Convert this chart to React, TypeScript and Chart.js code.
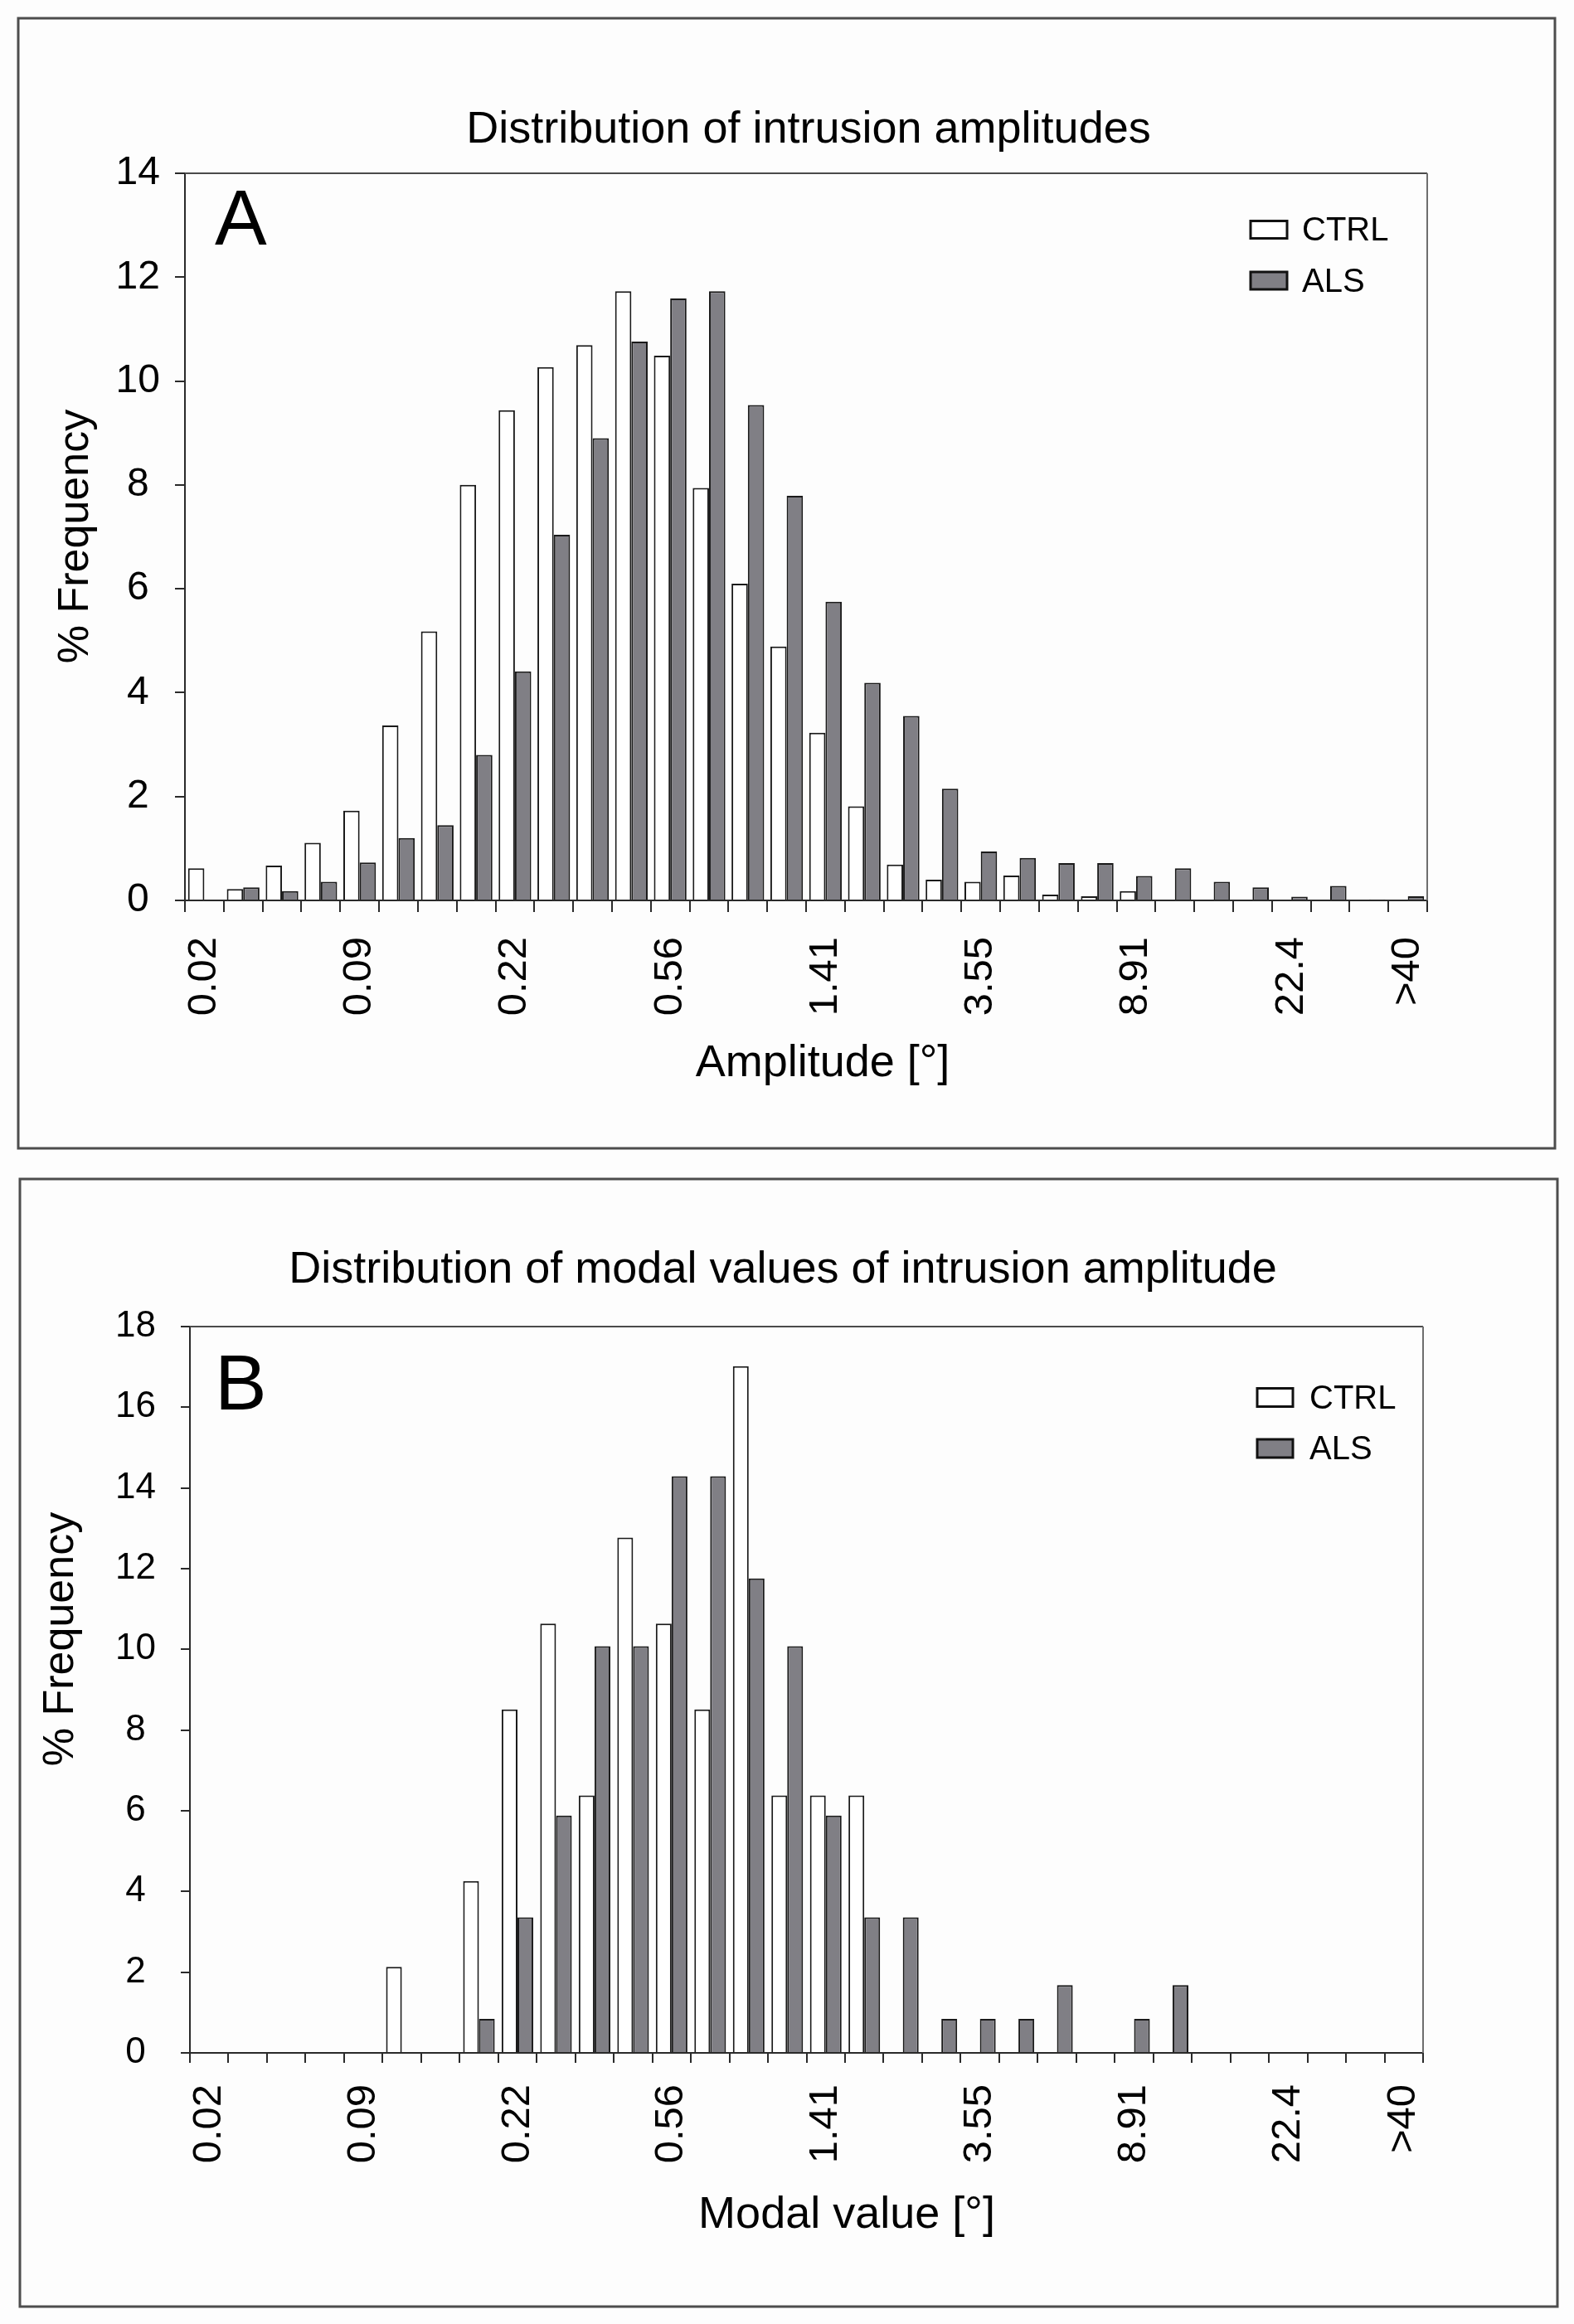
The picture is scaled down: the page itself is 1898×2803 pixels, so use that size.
import React, { useEffect, useRef } from "react";
import { Chart, registerables } from "chart.js";

Chart.register(...registerables);

const FONT = "'Liberation Sans', Arial, Helvetica, sans-serif";

// ---- data ----
const categories = [
  "0.02", "", "", "", "0.09", "", "", "", "0.22", "", "", "", "0.56", "", "", "",
  "1.41", "", "", "", "3.55", "", "", "", "8.91", "", "", "", "22.4", "", "", ">40",
];
const seriesNames = ["CTRL", "ALS"];

// Panel A: distribution of intrusion amplitudes (% frequency)
const amplitudeCtrl = [
  0.62, 0.22, 0.67, 1.11, 1.73, 3.37, 5.18, 8.0, 9.44, 10.27, 10.69, 11.73, 10.49, 7.94, 6.1, 4.89,
  3.23, 1.81, 0.69, 0.4, 0.36, 0.48, 0.11, 0.08, 0.18, 0, 0, 0, 0, 0, 0, 0,
];
const amplitudeAls = [
  0, 0.25, 0.18, 0.36, 0.73, 1.2, 1.45, 2.8, 4.41, 7.04, 8.9, 10.76, 11.59, 11.73, 9.54, 7.79,
  5.75, 4.19, 3.55, 2.15, 0.94, 0.82, 0.72, 0.72, 0.47, 0.62, 0.36, 0.25, 0.07, 0.28, 0.02, 0.08,
];

// Panel B: distribution of modal values of intrusion amplitude (% frequency)
const modalCtrl = [
  0, 0, 0, 0, 0, 2.13, 0, 4.26, 8.51, 10.64, 6.38, 12.77, 10.64, 8.51, 17.02, 6.38,
  6.38, 6.38, 0, 0, 0, 0, 0, 0, 0, 0, 0, 0, 0, 0, 0, 0,
];
const modalAls = [
  0, 0, 0, 0, 0, 0, 0, 0.84, 3.36, 5.88, 10.08, 10.08, 14.29, 14.29, 11.76, 10.08,
  5.88, 3.36, 3.36, 0.84, 0.84, 0.84, 1.68, 0, 0.84, 1.68, 0, 0, 0, 0, 0, 0,
];

const yMaxA = 14;
const yMaxB = 18;
const yStep = 2;

// ---- styles ----
const CANVAS_W = 1898;
const CTRL_FILL = "#ffffff";
const ALS_FILL = "#807f85";
const BAR_EDGE = "#1a1a1a";
const AXIS = "#2a2a2a";
const BG = "#fdfdfd";

type Panel = {
  top: number;
  height: number;
  area: { left: number; top: number; right: number; bottom: number };
  yMax: number;
  xTickLen: number;
  xTickPad: number;
  xTickFont: number;
  yTickLen: number;
  yTickPad: number;
  yTickFont: number;
  catPct: number;
  box: { x1: number; y1: number; x2: number; y2: number };
  title: string;
  titleX: number;
  titleY: number;
  xTitle: string;
  xTitleX: number;
  xTitleY: number;
  yTitle: string;
  yTitleX: number;
  yTitleY: number;
  letter: string;
  letterX: number;
  letterY: number;
  legendBoxX: number;
  legendBoxW: number;
  legendBoxH: number;
  legendRows: number[];
  legendTextX: number;
};

const panelA: Panel = {
  top: 0,
  height: 1400,
  area: { left: 223, top: 209, right: 1721, bottom: 1086 },
  yMax: yMaxA,
  xTickLen: 14,
  xTickPad: 30,
  xTickFont: 49,
  yTickLen: 12,
  yTickPad: 18,
  yTickFont: 48,
  catPct: 0.84,
  box: { x1: 22, y1: 22, x2: 1875, y2: 1385 },
  title: "Distribution of intrusion amplitudes",
  titleX: 975,
  titleY: 172,
  xTitle: "Amplitude [°]",
  xTitleX: 992,
  xTitleY: 1298,
  yTitle: "% Frequency",
  yTitleX: 106,
  yTitleY: 647,
  letter: "A",
  letterX: 259,
  letterY: 295,
  legendBoxX: 1508,
  legendBoxW: 44,
  legendBoxH: 21,
  legendRows: [277, 338.5],
  legendTextX: 1570,
};

const panelB: Panel = {
  top: 1400,
  height: 1403,
  area: { left: 229, top: 200, right: 1716, bottom: 1076 },
  yMax: yMaxB,
  xTickLen: 12,
  xTickPad: 26,
  xTickFont: 49,
  yTickLen: 11,
  yTickPad: 30,
  yTickFont: 44,
  catPct: 0.82,
  box: { x1: 24, y1: 22, x2: 1878, y2: 1382 },
  title: "Distribution of modal values of intrusion amplitude",
  titleX: 944,
  titleY: 147,
  xTitle: "Modal value [°]",
  xTitleX: 1021,
  xTitleY: 1287,
  yTitle: "% Frequency",
  yTitleX: 88,
  yTitleY: 577,
  letter: "B",
  letterX: 259,
  letterY: 300,
  legendBoxX: 1516,
  legendBoxW: 43,
  legendBoxH: 22,
  legendRows: [285.5, 347],
  legendTextX: 1579,
};

function decorPlugin(p: Panel) {
  return {
    id: "decor",
    beforeDraw(chart: any) {
      const ctx = chart.ctx;
      ctx.save();
      ctx.fillStyle = BG;
      ctx.fillRect(0, 0, chart.width, chart.height);
      ctx.restore();
    },
    afterDraw(chart: any) {
      const ctx = chart.ctx;
      const a = chart.chartArea;
      ctx.save();

      // plot frame top & right
      ctx.lineWidth = 2;
      ctx.strokeStyle = "#4a4a4a";
      ctx.beginPath();
      ctx.moveTo(a.left, a.top);
      ctx.lineTo(a.right, a.top);
      ctx.stroke();
      ctx.strokeStyle = "#6e6e6e";
      ctx.beginPath();
      ctx.moveTo(a.right, a.top);
      ctx.lineTo(a.right, a.bottom);
      ctx.stroke();

      // outer panel box
      ctx.lineWidth = 3;
      ctx.strokeStyle = "#4d4d4d";
      ctx.strokeRect(p.box.x1, p.box.y1, p.box.x2 - p.box.x1, p.box.y2 - p.box.y1);

      ctx.fillStyle = "#000";
      ctx.textBaseline = "alphabetic";

      // title
      ctx.font = `54px ${FONT}`;
      ctx.textAlign = "center";
      ctx.fillText(p.title, p.titleX, p.titleY);

      // x axis title
      ctx.fillText(p.xTitle, p.xTitleX, p.xTitleY);

      // y axis title (rotated)
      ctx.save();
      ctx.translate(p.yTitleX, p.yTitleY);
      ctx.rotate(-Math.PI / 2);
      ctx.font = `52px ${FONT}`;
      ctx.textAlign = "center";
      ctx.fillText(p.yTitle, 0, 0);
      ctx.restore();

      // panel letter
      ctx.font = `94px ${FONT}`;
      ctx.textAlign = "left";
      ctx.fillText(p.letter, p.letterX, p.letterY);

      // legend
      const ds = chart.data.datasets;
      ctx.font = `40px ${FONT}`;
      ctx.textBaseline = "middle";
      ds.forEach((d: any, i: number) => {
        const cy = p.legendRows[i];
        ctx.fillStyle = d.backgroundColor;
        ctx.fillRect(p.legendBoxX, cy - p.legendBoxH / 2, p.legendBoxW, p.legendBoxH);
        ctx.lineWidth = 3;
        ctx.strokeStyle = "#111";
        ctx.strokeRect(p.legendBoxX, cy - p.legendBoxH / 2, p.legendBoxW, p.legendBoxH);
        ctx.fillStyle = "#000";
        ctx.fillText(d.label, p.legendTextX, cy + 2);
      });

      ctx.restore();
    },
  };
}

function makeConfig(p: Panel, ctrl: number[], als: number[]): any {
  return {
    type: "bar",
    data: {
      labels: categories,
      datasets: [
        {
          label: seriesNames[0],
          data: ctrl,
          backgroundColor: CTRL_FILL,
          borderColor: BAR_EDGE,
          borderWidth: 2,
          categoryPercentage: p.catPct,
          barPercentage: 1,
        },
        {
          label: seriesNames[1],
          data: als,
          backgroundColor: ALS_FILL,
          borderColor: BAR_EDGE,
          borderWidth: 2,
          categoryPercentage: p.catPct,
          barPercentage: 1,
        },
      ],
    },
    options: {
      responsive: false,
      maintainAspectRatio: false,
      animation: false,
      devicePixelRatio: 1,
      layout: {
        padding: { left: 0, top: p.area.top, right: CANVAS_W - p.area.right, bottom: 0 },
      },
      plugins: {
        legend: { display: false },
        title: { display: false },
        tooltip: { enabled: false },
      },
      scales: {
        x: {
          type: "category",
          offset: true,
          grid: {
            display: true,
            drawOnChartArea: false,
            drawTicks: true,
            tickLength: p.xTickLen,
            color: AXIS,
            lineWidth: 2,
            offset: true,
          },
          border: { display: true, color: AXIS, width: 2 },
          ticks: {
            autoSkip: false,
            minRotation: 90,
            maxRotation: 90,
            padding: p.xTickPad,
            color: "#000",
            font: { family: FONT, size: p.xTickFont },
          },
          afterFit: (s: any) => {
            s.height = p.height - p.area.bottom;
          },
        },
        y: {
          min: 0,
          max: p.yMax,
          grid: {
            display: true,
            drawOnChartArea: false,
            drawTicks: true,
            tickLength: p.yTickLen,
            color: AXIS,
            lineWidth: 2,
          },
          border: { display: true, color: AXIS, width: 2 },
          ticks: {
            stepSize: yStep,
            padding: p.yTickPad,
            crossAlign: "center",
            color: "#000",
            font: { family: FONT, size: p.yTickFont },
          },
          afterFit: (s: any) => {
            s.width = p.area.left;
          },
        },
      },
    },
    plugins: [decorPlugin(p)],
  };
}

function PanelChart({ p, ctrl, als }: { p: Panel; ctrl: number[]; als: number[] }) {
  const ref = useRef<HTMLCanvasElement | null>(null);
  useEffect(() => {
    if (!ref.current) return;
    const chart = new Chart(ref.current, makeConfig(p, ctrl, als));
    return () => chart.destroy();
  }, [p, ctrl, als]);
  return (
    <canvas
      ref={ref}
      width={CANVAS_W}
      height={p.height}
      style={{
        position: "absolute",
        left: 0,
        top: p.top,
        width: CANVAS_W,
        height: p.height,
        display: "block",
      }}
    />
  );
}

export default function App() {
  return (
    <div
      style={{
        position: "absolute",
        left: 0,
        top: 0,
        width: CANVAS_W,
        height: 2803,
        background: BG,
        overflow: "hidden",
      }}
    >
      <PanelChart p={panelA} ctrl={amplitudeCtrl} als={amplitudeAls} />
      <PanelChart p={panelB} ctrl={modalCtrl} als={modalAls} />
    </div>
  );
}
